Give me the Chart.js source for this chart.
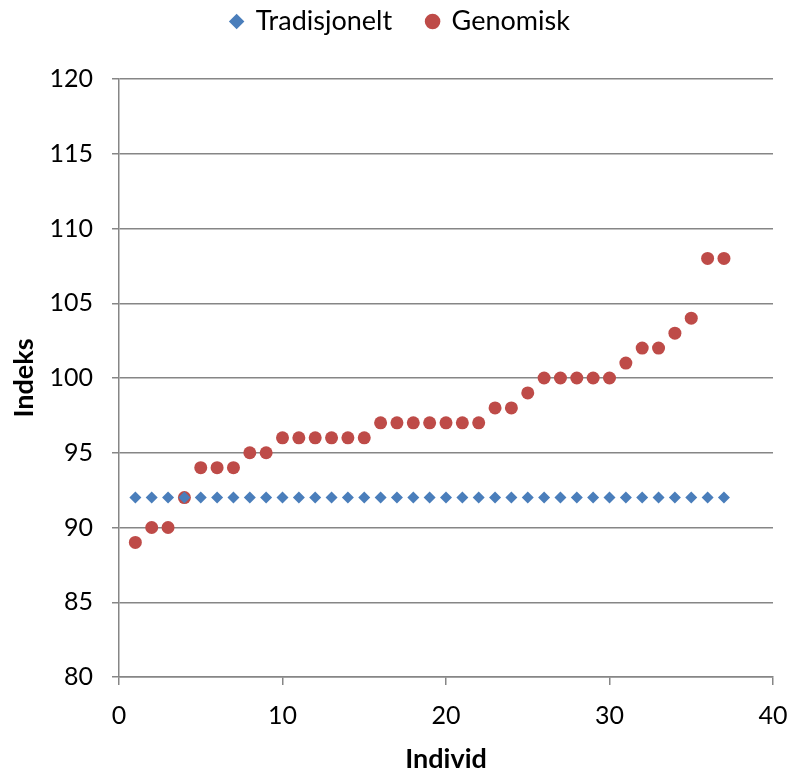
<!DOCTYPE html>
<html>
<head>
<meta charset="utf-8">
<script src="https://cdn.jsdelivr.net/npm/chart.js@4/dist/chart.umd.min.js"></script>
<style>
  html, body { margin: 0; padding: 0; background: #fff; }
  #indexChart { display: block; }
</style>
</head>
<body>
<canvas id="indexChart" width="792" height="770"></canvas>
<script>
// individ number 1..37
const individ = [1, 2, 3, 4, 5, 6, 7, 8, 9, 10, 11, 12, 13, 14, 15, 16, 17, 18, 19,
  20, 21, 22, 23, 24, 25, 26, 27, 28, 29, 30, 31, 32, 33, 34, 35, 36, 37];

const tradisjonelt = [92, 92, 92, 92, 92, 92, 92, 92, 92, 92, 92, 92, 92, 92, 92, 92, 92, 92, 92,
  92, 92, 92, 92, 92, 92, 92, 92, 92, 92, 92, 92, 92, 92, 92, 92, 92, 92];

const genomisk = [89, 90, 90, 92, 94, 94, 94, 95, 95, 96, 96, 96, 96, 96, 96, 97, 97, 97, 97,
  97, 97, 97, 98, 98, 99, 100, 100, 100, 100, 100, 101, 102, 102, 103, 104, 108, 108];

const xTicks = [0, 10, 20, 30, 40];
const yTicks = [80, 85, 90, 95, 100, 105, 110, 115, 120];

const fontFamily = "Lato, 'Open Sans', sans-serif";
const gridColor = "#868686";
const topPad = -27;

function toPoints(values) {
  return individ.map((x, i) => ({ x: x, y: values[i] }));
}

// legend keeps its item spacing but reserves a fixed band above the plot,
// and sits centred on the whole canvas rather than the padded box
const legendBand = {
  id: "legendBand",
  beforeInit(chart) {
    const legend = chart.legend;
    const fit = legend.fit;
    legend.fit = function () {
      fit.call(this);
      this.height = 79 - topPad;
    };
  },
  afterLayout(chart) {
    chart.legend.left += 14;
    chart.legend.right += 14;
  },
};

new Chart("indexChart", {
  type: "scatter",
  data: {
    datasets: [
      {
        label: "Tradisjonelt",
        data: toPoints(tradisjonelt),
        pointStyle: "rectRot",
        pointRadius: 6,
        pointHoverRadius: 6,
        backgroundColor: "#4a7ebb",
        borderColor: "#4a7ebb",
        borderWidth: 0,
      },
      {
        label: "Genomisk",
        data: toPoints(genomisk),
        pointStyle: "circle",
        pointRadius: 6.5,
        pointHoverRadius: 6.5,
        backgroundColor: "#be4b48",
        borderColor: "#be4b48",
        borderWidth: 0,
      },
    ],
  },
  plugins: [legendBand],
  options: {
    responsive: false,
    animation: false,
    layout: { padding: { left: 0, right: 19, top: topPad, bottom: 0 } },
    plugins: {
      tooltip: { enabled: false },
      legend: {
        position: "top",
        labels: {
          usePointStyle: true,
          boxWidth: 11,
          boxHeight: 11,
          padding: 35,
          color: "#000",
          font: { family: fontFamily, size: 27 },
        },
      },
    },
    scales: {
      x: {
        type: "linear",
        min: 0,
        max: 40,
        afterBuildTicks: (scale) => {
          scale.ticks = xTicks.map((v) => ({ value: v }));
        },
        afterFit: (scale) => {
          scale.height = 93;
          scale.paddingLeft = 0;
          scale.paddingRight = 0;
        },
        grid: {
          drawOnChartArea: false,
          drawTicks: true,
          tickLength: 8,
          color: gridColor,
          lineWidth: 1.5,
        },
        border: { display: true, color: gridColor, width: 1.5 },
        ticks: {
          color: "#000",
          padding: 16,
          maxRotation: 0,
          font: { family: fontFamily, size: 25 },
        },
        title: {
          display: true,
          text: "Individ",
          color: "#000",
          padding: { top: 0, bottom: -5 },
          font: { family: fontFamily, size: 27, weight: "bold" },
        },
      },
      y: {
        type: "linear",
        min: 80,
        max: 120,
        afterBuildTicks: (scale) => {
          scale.ticks = yTicks.map((v) => ({ value: v }));
        },
        afterFit: (scale) => {
          scale.width = 119;
          scale.paddingTop = 0;
          scale.paddingBottom = 0;
        },
        grid: {
          drawOnChartArea: true,
          drawTicks: true,
          tickLength: 7,
          color: gridColor,
          lineWidth: 1.5,
        },
        border: { display: true, color: gridColor, width: 1.5 },
        ticks: {
          color: "#000",
          padding: 19,
          font: { family: fontFamily, size: 25 },
        },
        title: {
          display: true,
          text: "Indeks",
          color: "#000",
          padding: { top: 8, bottom: 0 },
          font: { family: fontFamily, size: 27, weight: "bold" },
        },
      },
    },
  },
});
</script>
</body>
</html>
